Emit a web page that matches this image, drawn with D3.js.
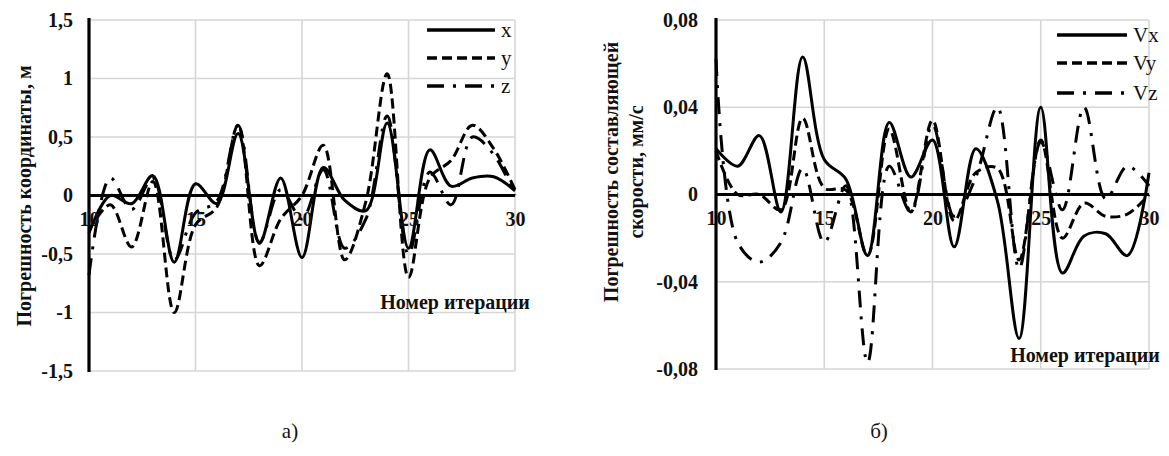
<!DOCTYPE html>
<html>
<head>
<meta charset="utf-8">
<script src="https://cdn.jsdelivr.net/npm/d3@7"></script>
<style>
  html, body { margin: 0; padding: 0; background: #fff; }
  svg { display: block; }
  text { font-family: "Liberation Serif", "Times New Roman", serif; fill: #111; }
</style>
</head>
<body>
<svg id="fig" width="1169" height="456"></svg>
<script>
// Iteration numbers (x axis) shared by both panels
const iterations = [10, 11, 12, 13, 14, 15, 16, 17, 18, 19, 20, 21, 22, 23, 24, 25, 26, 27, 28, 29, 30];
const xTicks = [10, 15, 20, 25, 30];

// Panel a): coordinate errors, m
const coordX = [-0.32, 0.0, -0.07, 0.17, -0.57, 0.1, -0.07, 0.53, -0.41, 0.15, -0.53, 0.24, -0.04, -0.13, 0.62, -0.45, 0.39, 0.08, 0.15, 0.16, 0.04];
const coordY = [-0.3, -0.08, -0.44, 0.12, -1.0, -0.25, -0.1, 0.6, -0.6, -0.2, 0.0, 0.43, -0.55, -0.05, 1.04, -0.7, 0.15, 0.3, 0.6, 0.4, 0.05];
const coordZ = [-0.68, 0.15, -0.12, 0.15, -0.55, -0.15, -0.05, 0.6, -0.4, 0.05, -0.2, 0.22, -0.45, -0.2, 0.68, -0.5, 0.2, -0.08, 0.5, 0.35, 0.0];
const coordTicks = [-1.5, -1, -0.5, 0, 0.5, 1, 1.5];
const coordTickLabels = ["-1,5", "-1", "-0,5", "0", "0,5", "1", "1,5"];

// Panel б): velocity component errors, mm/s
const velX = [0.021, 0.013, 0.027, -0.008, 0.063, 0.016, 0.007, -0.028, 0.033, 0.008, 0.025, -0.024, 0.021, -0.003, -0.066, 0.04, -0.036, -0.019, -0.018, -0.028, 0.01];
const velY = [0.02, 0.0, 0.0, -0.007, 0.035, 0.003, 0.002, -0.028, 0.03, -0.008, 0.034, -0.012, 0.01, 0.012, -0.03, 0.025, -0.02, -0.004, -0.01, -0.009, 0.0];
const velZ = [0.062, -0.022, -0.031, -0.022, 0.012, -0.022, 0.004, -0.077, 0.013, -0.008, 0.032, -0.01, 0.008, 0.04, -0.034, 0.024, -0.007, 0.04, -0.002, 0.013, 0.004];
const velTicks = [-0.08, -0.04, 0, 0.04, 0.08];
const velTickLabels = ["-0,08", "-0,04", "0", "0,04", "0,08"];

const svg = d3.select("#fig");
svg.append("rect").attr("width", 1169).attr("height", 456).attr("fill", "#fff");

const dashStyles = {
  solid: null,
  dash: "10,5",
  dashDot: "17,9,3,9"
};

function panel(opts) {
  const g = svg.append("g");
  const x = d3.scaleLinear().domain([10, 30]).range([opts.left, opts.right]);
  const y = d3.scaleLinear().domain(opts.yDomain).range([opts.bottom, opts.top]);

  // grid
  g.append("g")
    .selectAll("line.h")
    .data(opts.yTicks.filter(v => v !== 0))
    .join("line")
    .attr("x1", opts.left).attr("x2", opts.right)
    .attr("y1", d => y(d)).attr("y2", d => y(d))
    .attr("stroke", "#d6d6d6").attr("stroke-width", 1.6);
  g.append("g")
    .selectAll("line.v")
    .data(xTicks.filter(v => v !== 10))
    .join("line")
    .attr("x1", d => x(d)).attr("x2", d => x(d))
    .attr("y1", opts.top).attr("y2", opts.bottom)
    .attr("stroke", "#d6d6d6").attr("stroke-width", 1.6);

  // y tick labels
  const yAxis = d3.axisLeft(y).tickValues(opts.yTicks)
    .tickFormat((d, i) => opts.yTickLabels[i]).tickSize(0).tickPadding(0);
  const ya = g.append("g").attr("transform", `translate(${opts.yLabelX},0)`).call(yAxis);
  ya.select(".domain").remove();
  ya.selectAll("text").attr("font-size", 20).attr("font-weight", "bold")
    .attr("font-family", "Liberation Serif").attr("fill", "#222");

  // series
  const line = d3.line()
    .x((d, i) => x(iterations[i]))
    .y(d => y(d))
    .curve(d3.curveCatmullRom.alpha(0.5));
  opts.series.forEach(s => {
    g.append("path")
      .datum(s.values)
      .attr("d", line)
      .attr("fill", "none")
      .attr("stroke", "#000")
      .attr("stroke-width", 3)
      .attr("stroke-dasharray", dashStyles[s.style]);
  });

  // axes lines
  g.append("line")
    .attr("x1", opts.left).attr("x2", opts.left)
    .attr("y1", opts.top - 2).attr("y2", opts.bottom + 1)
    .attr("stroke", "#000").attr("stroke-width", 3.2);
  g.append("line")
    .attr("x1", opts.left).attr("x2", opts.right)
    .attr("y1", y(0)).attr("y2", y(0))
    .attr("stroke", "#000").attr("stroke-width", 3.2);

  // x tick labels sit just under the zero line
  const xAxis = d3.axisBottom(x).tickValues(xTicks).tickSize(0).tickPadding(16);
  const xa = g.append("g").attr("transform", `translate(0,${y(0)})`).call(xAxis);
  xa.select(".domain").remove();
  xa.selectAll("text").attr("font-size", 20).attr("font-weight", "bold")
    .attr("font-family", "Liberation Serif").attr("fill", "#333");

  // x title
  g.append("text")
    .attr("x", opts.xTitleX).attr("y", opts.xTitleY)
    .attr("text-anchor", "middle").attr("dominant-baseline", "central")
    .attr("font-size", 20).attr("font-weight", "bold")
    .text("Номер итерации");

  // y title
  opts.yTitle.forEach((t, i) => {
    g.append("text")
      .attr("transform", `translate(${opts.yTitleX[i]},${opts.yTitleY}) rotate(-90)`)
      .attr("text-anchor", "middle").attr("dominant-baseline", "central")
      .attr("font-size", 20).attr("font-weight", "bold")
      .text(t);
  });

  // legend
  opts.series.forEach((s, i) => {
    const ly = opts.legendY[i];
    g.append("line")
      .attr("x1", opts.legendX).attr("x2", opts.legendX + opts.legendLen)
      .attr("y1", ly).attr("y2", ly)
      .attr("stroke", "#000").attr("stroke-width", 3.6)
      .attr("stroke-dasharray", dashStyles[s.style]);
    g.append("text")
      .attr("x", opts.legendX + opts.legendLen + 6).attr("y", ly)
      .attr("dominant-baseline", "central")
      .attr("font-size", 21)
      .text(s.name);
  });

  // panel caption
  g.append("text")
    .attr("x", opts.captionX).attr("y", 431)
    .attr("text-anchor", "middle").attr("dominant-baseline", "central")
    .attr("font-size", 21)
    .text(opts.caption);
}

panel({
  left: 89, right: 515, top: 20, bottom: 371,
  yDomain: [-1.5, 1.5], yTicks: coordTicks, yTickLabels: coordTickLabels,
  yLabelX: 73,
  series: [
    { name: "x", values: coordX, style: "solid" },
    { name: "y", values: coordY, style: "dash" },
    { name: "z", values: coordZ, style: "dashDot" }
  ],
  xTitleX: 455, xTitleY: 302,
  yTitle: ["Погрешность координаты, м"], yTitleX: [24], yTitleY: 196,
  legendX: 427, legendLen: 68, legendY: [30, 58, 86],
  captionX: 290, caption: "а)"
});

panel({
  left: 716, right: 1149, top: 20, bottom: 369,
  yDomain: [-0.08, 0.08], yTicks: velTicks, yTickLabels: velTickLabels,
  yLabelX: 698,
  series: [
    { name: "Vx", values: velX, style: "solid" },
    { name: "Vy", values: velY, style: "dash" },
    { name: "Vz", values: velZ, style: "dashDot" }
  ],
  xTitleX: 1085, xTitleY: 355,
  yTitle: ["Погрешность составляющей", "скорости, мм/с"], yTitleX: [611, 636], yTitleY: 172,
  legendX: 1057, legendLen: 70, legendY: [35, 63, 93],
  captionX: 879, caption: "б)"
});
</script>
</body>
</html>
